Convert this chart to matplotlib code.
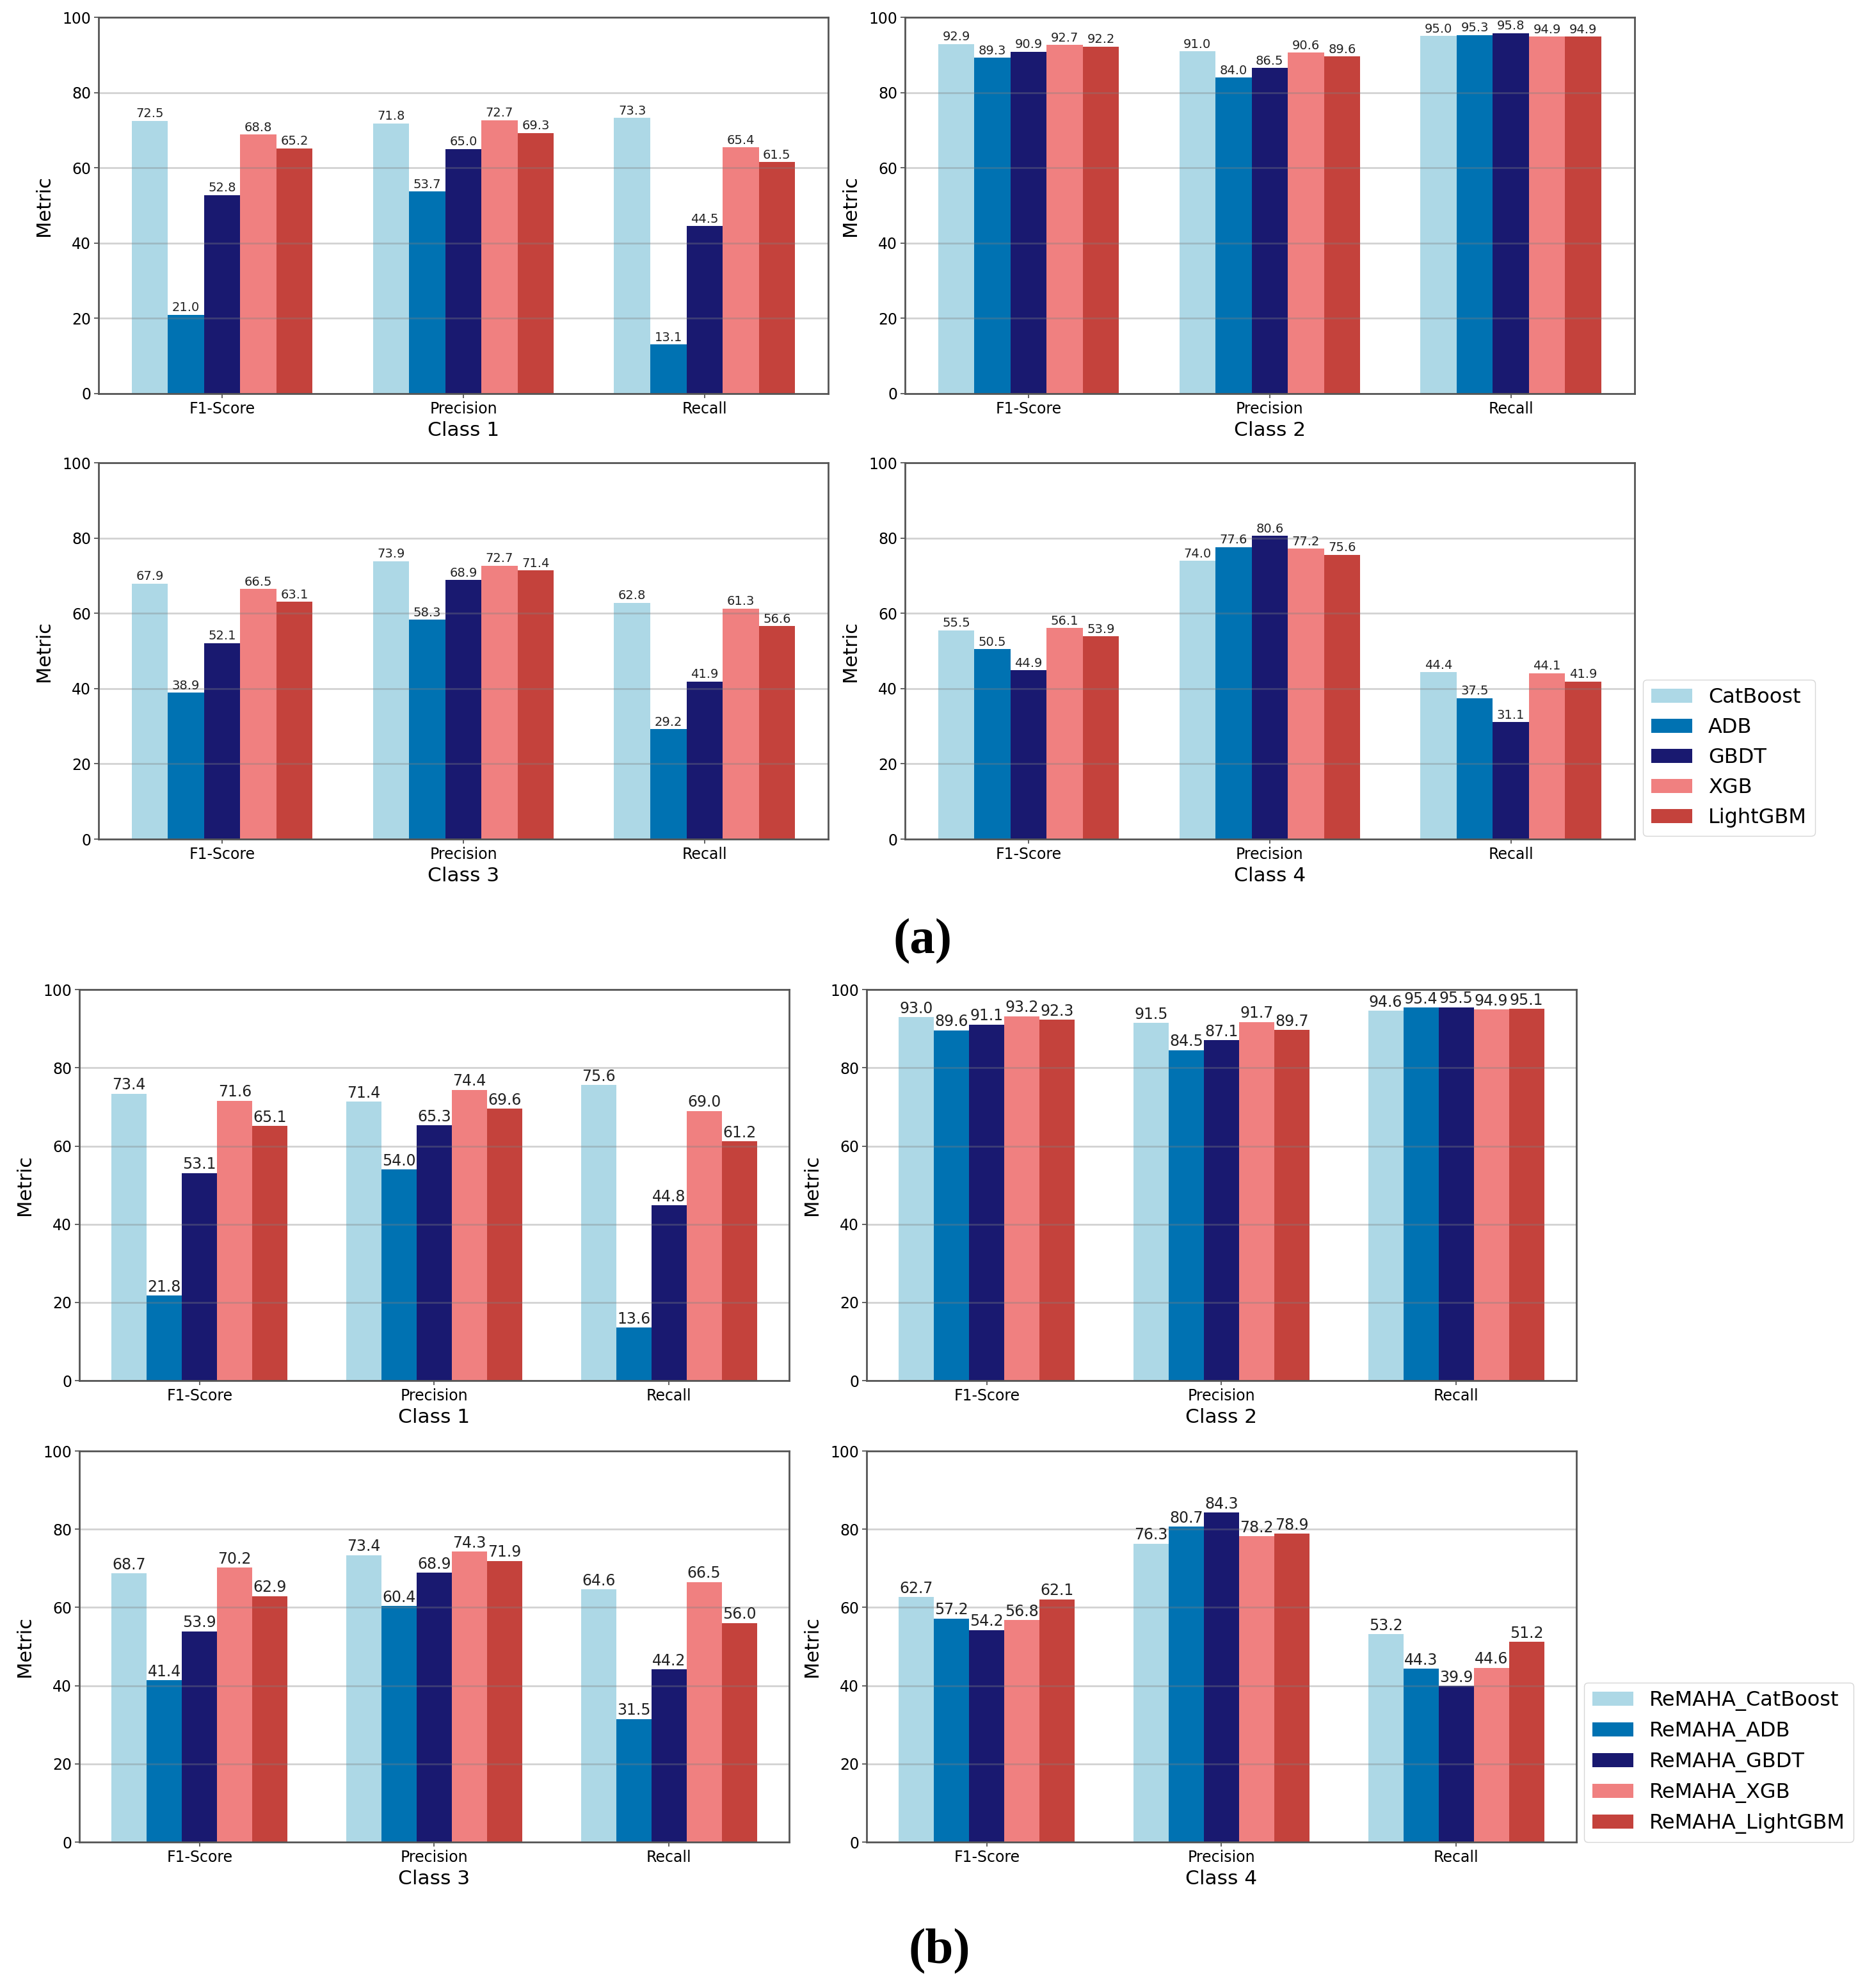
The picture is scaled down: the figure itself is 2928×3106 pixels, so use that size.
import numpy as np
import matplotlib
matplotlib.use("Agg")
import matplotlib.pyplot as plt

# metric names on the x axis
metrics = ['F1-Score', 'Precision', 'Recall']

models_a = ['CatBoost', 'ADB', 'GBDT', 'XGB', 'LightGBM']
models_b = ['ReMAHA_CatBoost', 'ReMAHA_ADB', 'ReMAHA_GBDT', 'ReMAHA_XGB', 'ReMAHA_LightGBM']

colors = ['#ADD8E6', '#0072B2', '#191970', '#F08080', '#C4423C']

# rows: F1-Score, Precision, Recall ; columns: models
a_class1 = [[72.5, 21.0, 52.8, 68.8, 65.2],
            [71.8, 53.7, 65.0, 72.7, 69.3],
            [73.3, 13.1, 44.5, 65.4, 61.5]]
a_class2 = [[92.9, 89.3, 90.9, 92.7, 92.2],
            [91.0, 84.0, 86.5, 90.6, 89.6],
            [95.0, 95.3, 95.8, 94.9, 94.9]]
a_class3 = [[67.9, 38.9, 52.1, 66.5, 63.1],
            [73.9, 58.3, 68.9, 72.7, 71.4],
            [62.8, 29.2, 41.9, 61.3, 56.6]]
a_class4 = [[55.5, 50.5, 44.9, 56.1, 53.9],
            [74.0, 77.6, 80.6, 77.2, 75.6],
            [44.4, 37.5, 31.1, 44.1, 41.9]]

b_class1 = [[73.4, 21.8, 53.1, 71.6, 65.1],
            [71.4, 54.0, 65.3, 74.4, 69.6],
            [75.6, 13.6, 44.8, 69.0, 61.2]]
b_class2 = [[93.0, 89.6, 91.1, 93.2, 92.3],
            [91.5, 84.5, 87.1, 91.7, 89.7],
            [94.6, 95.4, 95.5, 94.9, 95.1]]
b_class3 = [[68.7, 41.4, 53.9, 70.2, 62.9],
            [73.4, 60.4, 68.9, 74.3, 71.9],
            [64.6, 31.5, 44.2, 66.5, 56.0]]
b_class4 = [[62.7, 57.2, 54.2, 56.8, 62.1],
            [76.3, 80.7, 84.3, 78.2, 78.9],
            [53.2, 44.3, 39.9, 44.6, 51.2]]


def draw_panel(ax, data, models, title, value_size):
    data = np.array(data)
    x = np.arange(len(metrics))
    width = 0.15
    for i, model in enumerate(models):
        b = ax.bar(x + (i - 2) * width, data[:, i], width, color=colors[i], label=model)
        ax.bar_label(b, fmt='%.1f', padding=1, fontsize=value_size, color='#222222')
    ax.set_ylim(0, 100)
    ax.set_yticks([0, 20, 40, 60, 80, 100])
    ax.set_xticks(x)
    ax.set_xticklabels(metrics)
    ax.set_ylabel('Metric', fontsize=22, labelpad=10)
    ax.set_xlabel(title, fontsize=22.5, labelpad=5)
    ax.grid(True, axis='y', color='gray', alpha=0.35, linewidth=2)
    ax.tick_params(labelsize=17, length=5, width=1.3, color='#555555')
    for s in ax.spines.values():
        s.set_color('#555555')
        s.set_linewidth(2)


fig = plt.figure(figsize=(29.28, 31.06), dpi=100)

# panel (a)
wa, ha = 0.3893, 0.1893
ax1 = fig.add_axes([0.0526, 0.8020, wa, ha])
ax2 = fig.add_axes([0.4829, 0.8020, wa, ha])
ax3 = fig.add_axes([0.0526, 0.5779, wa, ha])
ax4 = fig.add_axes([0.4829, 0.5779, wa, ha])
draw_panel(ax1, a_class1, models_a, 'Class 1', 14)
draw_panel(ax2, a_class2, models_a, 'Class 2', 14)
draw_panel(ax3, a_class3, models_a, 'Class 3', 14)
draw_panel(ax4, a_class4, models_a, 'Class 4', 14)
h, l = ax4.get_legend_handles_labels()
fig.legend(h, l, loc='lower left', bbox_to_anchor=(0.8767, 0.5795), fontsize=23, borderaxespad=0)

# panel (b)
wb, hb = 0.3788, 0.1967
bx1 = fig.add_axes([0.0423, 0.3055, wb, hb])
bx2 = fig.add_axes([0.4624, 0.3055, wb, hb])
bx3 = fig.add_axes([0.0423, 0.0734, wb, hb])
bx4 = fig.add_axes([0.4624, 0.0734, wb, hb])
draw_panel(bx1, b_class1, models_b, 'Class 1', 17)
draw_panel(bx2, b_class2, models_b, 'Class 2', 17)
draw_panel(bx3, b_class3, models_b, 'Class 3', 17)
draw_panel(bx4, b_class4, models_b, 'Class 4', 17)
h, l = bx4.get_legend_handles_labels()
fig.legend(h, l, loc='lower left', bbox_to_anchor=(0.8453, 0.0734), fontsize=23, borderaxespad=0)

fig.text(0.4925, 0.5265, '(a)', fontsize=57, fontweight='bold', family='Liberation Serif',
         ha='center', va='center')
fig.text(0.5014, 0.0183, '(b)', fontsize=57, fontweight='bold', family='Liberation Serif',
         ha='center', va='center')

fig.savefig('out.png', dpi=100)
